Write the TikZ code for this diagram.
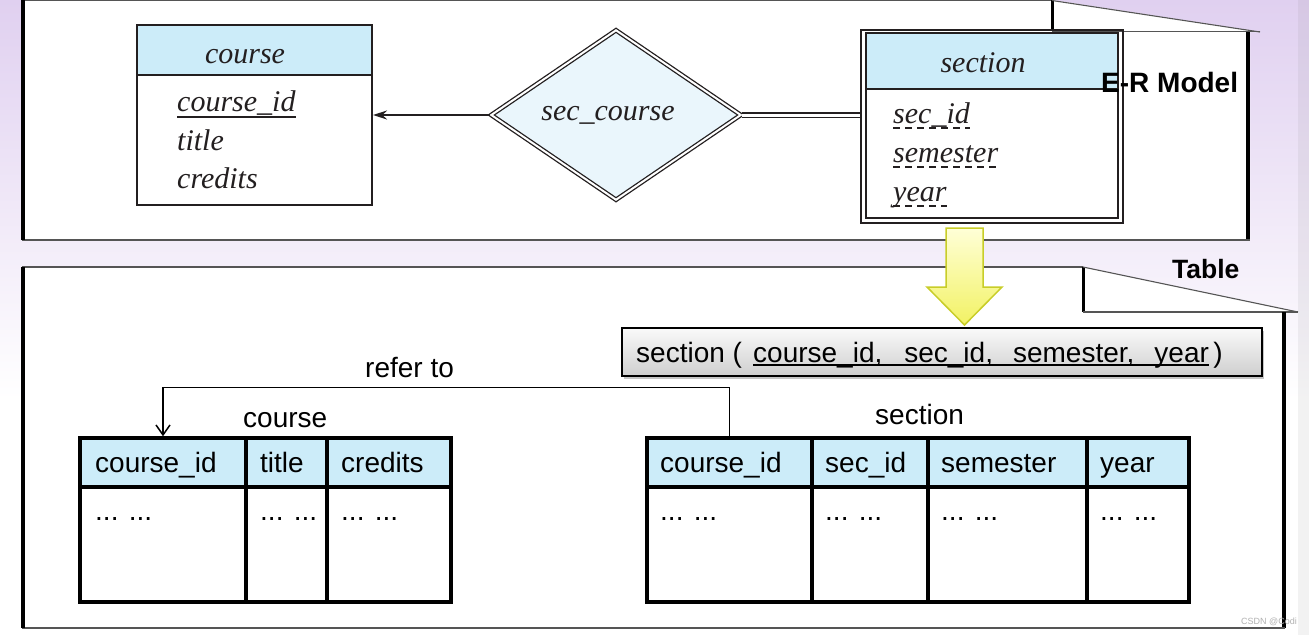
\documentclass[tikz,border=0pt]{standalone}
\usepackage{fontspec}
\setmainfont{Liberation Serif}
\newfontfamily\arialf{Liberation Sans}
\usetikzlibrary{shapes.geometric,arrows.meta,shadows}
\definecolor{lav}{RGB}{224,208,240}
\definecolor{hdrblue}{RGB}{204,236,249}
\definecolor{relblue}{RGB}{234,246,252}
\definecolor{ink}{RGB}{35,31,32}
\definecolor{panelline}{RGB}{85,85,85}
\definecolor{ylwborder}{RGB}{200,205,40}
\definecolor{ylwtop}{RGB}{255,255,215}
\definecolor{ylwbot}{RGB}{242,242,100}
\begin{document}
\begin{tikzpicture}[x=1pt,y=-1pt,
  er/.style={font=\fontsize{30}{30}\selectfont\itshape, text=ink, inner sep=0pt},
  sf/.style={font=\arialf\fontsize{28}{28}\selectfont, inner sep=0pt},
  cellh/.style={draw, line width=3.5pt, fill=hdrblue, minimum height=49pt, inner sep=0pt},
  cellb/.style={draw, line width=3.5pt, fill=white, minimum height=115pt, inner sep=0pt},
  thickedge/.style={line width=3.5pt},
  thinedge/.style={panelline, line width=1.1pt},
  solidul/.style={ink, line width=1.5pt},
  dashul/.style={ink, line width=1.5pt, dash pattern=on 7pt off 5pt},
  boldlabel/.style={font=\arialf\bfseries\fontsize{28}{28}\selectfont, inner sep=0pt, anchor=base west}
]
\useasboundingbox (0,0) rectangle (1309,635);
% background
\fill[white] (0,0) rectangle (1309,635);
\shade[top color=lav, bottom color=white] (0,0) rectangle (1309,400);
\fill[gray, opacity=0.1] (1298,0) rectangle (1309,635);

% ---- top panel (E-R model)
\fill[white] (22,0) -- (1052,0) -- (1260,32) -- (1250,32) -- (1250,240) -- (22,240) -- cycle;
\draw[thinedge] (22,0.5) -- (1052,0.5);
\draw[line width=3pt] (1052,0) -- (1052,31);
\draw[thinedge] (1052,0.5) -- (1260,32);
\draw[thinedge] (1052,31.5) -- (1260,31.5);
\draw[thickedge] (1248,32) -- (1248,240);
\draw[thinedge] (22,240) -- (1250,240);
\draw[line width=4pt] (23,0) -- (23,240);

% ---- bottom panel (Table)
\fill[white] (22,267) -- (1083,267) -- (1298,312) -- (1285,312) -- (1285,628) -- (22,628) -- cycle;
\draw[thinedge] (22,267) -- (1083,267);
\draw[line width=3pt] (1083,267) -- (1083,312);
\draw[thinedge] (1083,267) -- (1298,312);
\draw[thinedge] (1083,312) -- (1298,312);
\draw[thickedge] (1284,312) -- (1284,628);
\draw[thinedge] (22,628) -- (1285,628);
\draw[line width=4pt] (23,267) -- (23,628);

% ---- course entity
\node[fill=hdrblue, minimum width=235pt, minimum height=50pt, inner sep=0pt] (courseh) at (254.5,50) {};
\node[draw=ink, line width=2pt, minimum width=235pt, minimum height=180pt, inner sep=0pt] (course) at (254.5,115) {};
\draw[ink, line width=2pt] (courseh.south west) -- (courseh.south east);
\node[er, anchor=base] (coursel) at (245,63) {course};
\node[er, anchor=base west] (cid) at (177,111) {course\_id};
\draw[solidul] ([yshift=-6pt]cid.base west) -- ([yshift=-6pt]cid.base east);
\node[er, anchor=base west] (ctitle) at (177,150) {title};
\node[er, anchor=base west] (ccred) at (177,188) {credits};

% ---- relationship
\node[diamond, aspect=1.46, draw=ink, fill=relblue, double, double distance=2pt, line width=1.3pt, minimum width=250pt, minimum height=170pt, inner sep=0pt] (rel) at (616,115) {};
\node[er, anchor=base] (rell) at (608,120) {sec\_course};

% ---- section weak entity
\node[draw=ink, line width=1.5pt, minimum width=262pt, minimum height=193pt, inner sep=0pt] (sec) at (992,126.5) {};
\node[fill=hdrblue, minimum width=252pt, minimum height=56pt, inner sep=0pt] (sech) at (992,61) {};
\node[draw=ink, line width=2pt, minimum width=252pt, minimum height=185pt, inner sep=0pt] (secin) at (992,125.5) {};
\draw[ink, line width=2pt] (sech.south west) -- (sech.south east);
\node[er, anchor=base] (secl) at (983,72) {section};
\node[er, anchor=base west] (sid) at (893,123) {sec\_id};
\draw[dashul] ([yshift=-5pt]sid.base west) -- ([yshift=-5pt]sid.base east);
\node[er, anchor=base west] (ssem) at (893,162) {semester};
\draw[dashul] ([yshift=-5pt]ssem.base west) -- ([yshift=-5pt]ssem.base east);
\node[er, anchor=base west] (syear) at (893,201) {year};
\draw[dashul] ([yshift=-5pt]syear.base west) -- ([yshift=-5pt]syear.base east);

% ---- connectors of the E-R model
\draw[ink, line width=1.4pt, -{Stealth[length=14pt,width=9pt]}] (rel.west) -- (course.east);
\draw[ink, double, double distance=3pt, line width=1.3pt] (rel.east) -- (rel.east -| sec.west);

\node[boldlabel] (ermodel) at (1101,92) {E-R Model};
\node[boldlabel, font=\arialf\bfseries\fontsize{26.5}{26.5}\selectfont] (tablelbl) at (1172,278) {Table};

% ---- yellow block arrow
\shade[top color=ylwtop, bottom color=ylwbot, draw=ylwborder, line width=1.5pt, line join=miter]
  (946,228) -- (983,228) -- (983,287) -- (1002,287) -- (964.5,325) -- (927,287) -- (946,287) -- cycle;

% ---- relation schema
\node[draw=black, line width=1.5pt, top color=gray!4, bottom color=gray!38, minimum width=640pt, minimum height=48pt, inner sep=0pt,
  drop shadow={shadow xshift=2pt, shadow yshift=-2.5pt, opacity=0.45}] (schema) at (942,352) {};
\node[sf, anchor=base west] (s1) at (636,362) {section (};
\node[sf, anchor=base west] (s2) at (753,362) {course\_id,\hspace{22pt}sec\_id,\hspace{20pt}semester,\hspace{20pt}year\hspace{9pt}};
\node[sf, anchor=base west] (s3) at ([xshift=4pt]s2.base east) {)};
\draw[black, line width=1.2pt] ([yshift=-3pt]s2.base west) -- ([yshift=-3pt]s2.base east);

% ---- course table
\node[cellh, minimum width=166pt] (ch1) at (163,462.5) {};
\node[cellh, minimum width=81pt] (ch2) at (286.5,462.5) {};
\node[cellh, minimum width=124pt] (ch3) at (389,462.5) {};
\node[cellb, minimum width=166pt] (cb1) at (163,544.5) {};
\node[cellb, minimum width=81pt] (cb2) at (286.5,544.5) {};
\node[cellb, minimum width=124pt] (cb3) at (389,544.5) {};
\node[sf, anchor=base west] (cht1) at (95,472) {course\_id};
\node[sf, anchor=base west] (cht2) at (260,472) {title};
\node[sf, anchor=base west] (cht3) at (341,472) {credits};
\node[sf, anchor=base west] (cbt1) at (95,520) {... ...};
\node[sf, anchor=base west] (cbt2) at (260,520) {... ...};
\node[sf, anchor=base west] (cbt3) at (341,520) {... ...};
\node[sf, anchor=base west] (ctl) at (243,427) {course};

% ---- section table
\node[cellh, minimum width=165pt] (sh1) at (729.5,462.5) {};
\node[cellh, minimum width=116pt] (sh2) at (870,462.5) {};
\node[cellh, minimum width=159pt] (sh3) at (1007.5,462.5) {};
\node[cellh, minimum width=102pt] (sh4) at (1138,462.5) {};
\node[cellb, minimum width=165pt] (sb1) at (729.5,544.5) {};
\node[cellb, minimum width=116pt] (sb2) at (870,544.5) {};
\node[cellb, minimum width=159pt] (sb3) at (1007.5,544.5) {};
\node[cellb, minimum width=102pt] (sb4) at (1138,544.5) {};
\node[sf, anchor=base west] (sht1) at (660,472) {course\_id};
\node[sf, anchor=base west] (sht2) at (825,472) {sec\_id};
\node[sf, anchor=base west] (sht3) at (941,472) {semester};
\node[sf, anchor=base west] (sht4) at (1100,472) {year};
\node[sf, anchor=base west] (sbt1) at (660,520) {... ...};
\node[sf, anchor=base west] (sbt2) at (825,520) {... ...};
\node[sf, anchor=base west] (sbt3) at (941,520) {... ...};
\node[sf, anchor=base west] (sbt4) at (1100,520) {... ...};
\node[sf, anchor=base west] (stl) at (875,424) {section};

% ---- refer to connector
\draw[line width=1.5pt, -{Straight Barb[length=10pt,width=14pt]}] (sh1.north) -- ++(0,-49) -| (ch1.north);
\node[sf, anchor=base west] (refer) at (365,377) {refer to};

\node[font=\arialf\fontsize{9}{9}\selectfont, text=gray!60, anchor=base east, inner sep=0pt] (wm) at (1297,624) {CSDN @Codi};
\end{tikzpicture}
\end{document}
